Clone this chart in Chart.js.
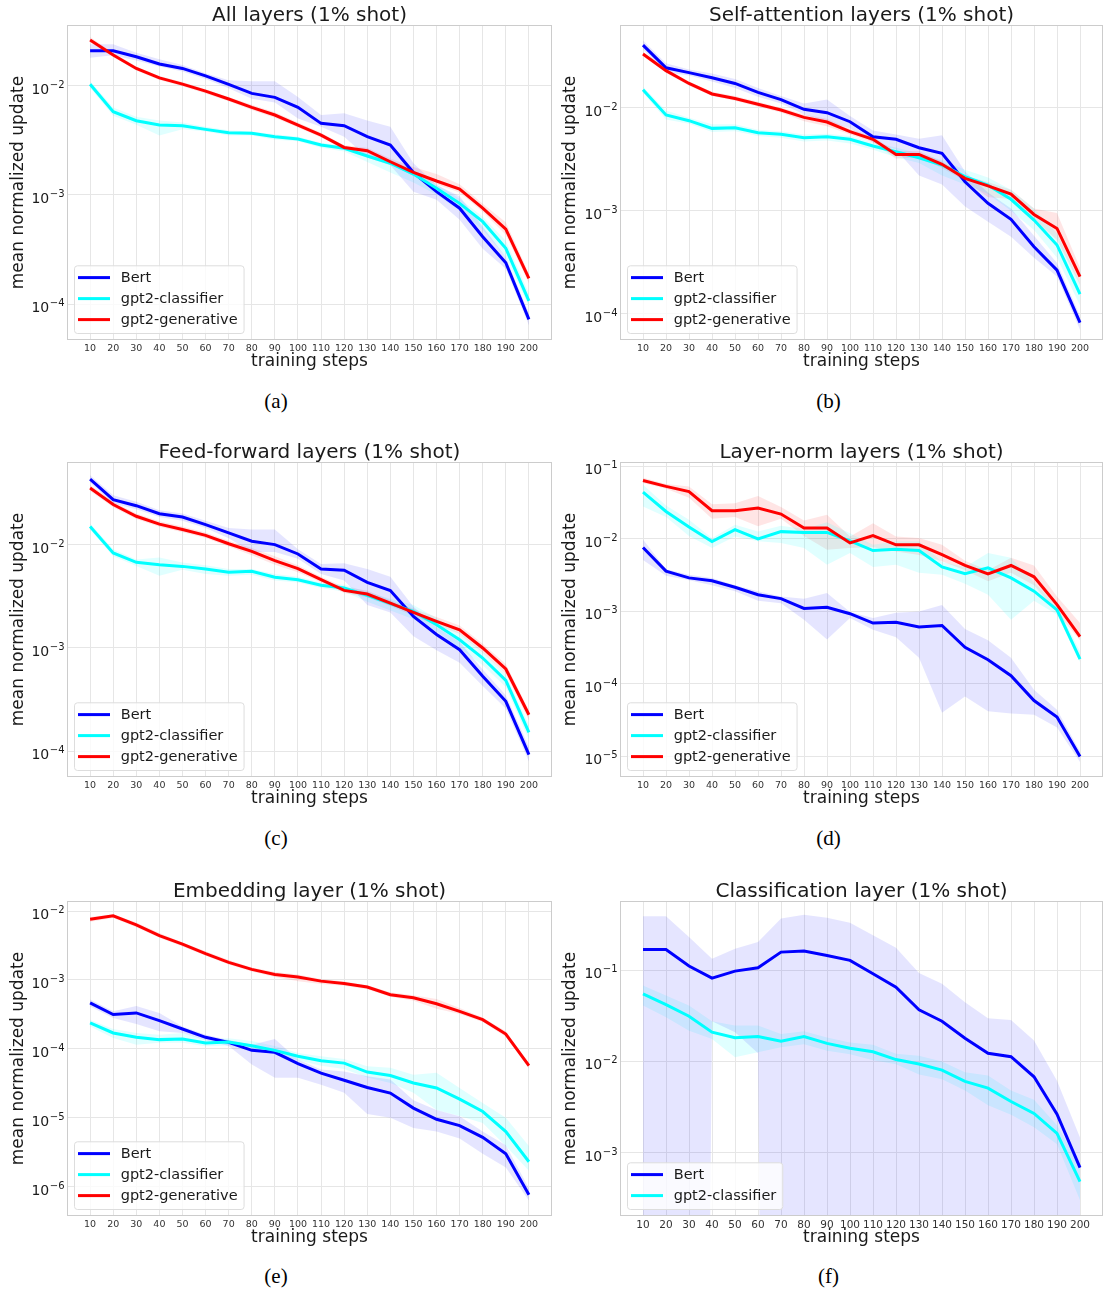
<!DOCTYPE html>
<html>
<head>
<meta charset="utf-8">
<script src="https://cdn.jsdelivr.net/npm/chart.js@4.4.0/dist/chart.umd.min.js"></script>
<style>
  html, body { margin: 0; padding: 0; background: #fff; }
  #fig { position: relative; width: 1105px; height: 1292px; overflow: hidden; }
  canvas { position: absolute; }
  .cap { position: absolute; text-align: center; font-family: 'Liberation Serif', 'Times New Roman', serif; font-size: 21px; line-height: 21px; color: #000; }
</style>
</head>
<body>
<div id="fig">
  <canvas id="chartA" width="555" height="372" style="left:0;top:0"></canvas>
  <canvas id="chartB" width="550" height="372" style="left:555px;top:0"></canvas>
  <canvas id="chartC" width="555" height="372" style="left:0;top:437px"></canvas>
  <canvas id="chartD" width="550" height="372" style="left:555px;top:437px"></canvas>
  <canvas id="chartE" width="555" height="372" style="left:0;top:876px"></canvas>
  <canvas id="chartF" width="550" height="372" style="left:555px;top:876px"></canvas>
  <div class="cap" style="left:0;width:552px;top:391px">(a)</div>
  <div class="cap" style="left:552px;width:553px;top:391px">(b)</div>
  <div class="cap" style="left:0;width:552px;top:828px">(c)</div>
  <div class="cap" style="left:552px;width:553px;top:828px">(d)</div>
  <div class="cap" style="left:0;width:552px;top:1266px">(e)</div>
  <div class="cap" style="left:552px;width:553px;top:1266px">(f)</div>
</div>
<script>
const steps = [10, 20, 30, 40, 50, 60, 70, 80, 90, 100, 110, 120, 130, 140, 150, 160, 170, 180, 190, 200];

// (a) all layers
const bertAll   = [2.09e-2, 2.09e-2, 1.84e-2, 1.58e-2, 1.44e-2, 1.23e-2, 1.03e-2, 8.5e-3, 7.82e-3, 6.34e-3, 4.52e-3, 4.30e-3, 3.41e-3, 2.86e-3, 1.60e-3, 1.07e-3, 7.55e-4, 4.14e-4, 2.39e-4, 7.24e-5];
const bertAllHi = [2.4e-2, 2.4e-2, 2.0e-2, 1.75e-2, 1.55e-2, 1.3e-2, 1.12e-2, 1.1e-2, 1.1e-2, 7.9e-3, 5.4e-3, 5.6e-3, 4.8e-3, 4.2e-3, 1.95e-3, 1.23e-3, 9.7e-4, 5.1e-4, 2.7e-4, 8.2e-5];
const bertAllLo = [1.8e-2, 1.9e-2, 1.7e-2, 1.5e-2, 1.35e-2, 1.15e-2, 9.5e-3, 7.6e-3, 7.0e-3, 5.0e-3, 4.2e-3, 3.4e-3, 2.2e-3, 1.87e-3, 1.07e-3, 9.0e-4, 5.9e-4, 3.2e-4, 2.1e-4, 6.4e-5];
const clsAll    = [1.03e-2, 5.78e-3, 4.78e-3, 4.36e-3, 4.30e-3, 3.98e-3, 3.71e-3, 3.66e-3, 3.41e-3, 3.25e-3, 2.86e-3, 2.67e-3, 2.27e-3, 1.95e-3, 1.55e-3, 1.15e-3, 8.36e-4, 5.68e-4, 3.24e-4, 1.07e-4];
const clsAllHi  = [1.1e-2, 6.3e-3, 5.2e-3, 4.8e-3, 4.6e-3, 4.2e-3, 3.9e-3, 3.8e-3, 3.6e-3, 3.4e-3, 3.0e-3, 2.8e-3, 2.4e-3, 2.1e-3, 1.7e-3, 1.25e-3, 9.2e-4, 6.3e-4, 3.8e-4, 1.25e-4];
const clsAllLo  = [9.6e-3, 5.3e-3, 4.4e-3, 3.5e-3, 4.0e-3, 3.8e-3, 3.5e-3, 3.5e-3, 3.2e-3, 3.1e-3, 2.7e-3, 2.5e-3, 2.0e-3, 1.6e-3, 1.3e-3, 1.0e-3, 7.2e-4, 4.8e-4, 2.7e-4, 9.5e-5];
const genAll    = [2.62e-2, 1.91e-2, 1.44e-2, 1.18e-2, 1.035e-2, 8.93e-3, 7.55e-3, 6.34e-3, 5.39e-3, 4.36e-3, 3.53e-3, 2.72e-3, 2.54e-3, 2.01e-3, 1.61e-3, 1.34e-3, 1.13e-3, 7.55e-4, 4.86e-4, 1.72e-4];
const genAllHi  = [2.8e-2, 2.0e-2, 1.5e-2, 1.23e-2, 1.08e-2, 9.3e-3, 7.9e-3, 6.7e-3, 5.7e-3, 4.6e-3, 3.7e-3, 2.85e-3, 2.7e-3, 2.15e-3, 1.8e-3, 1.55e-3, 1.25e-3, 8.3e-4, 5.6e-4, 1.9e-4];
const genAllLo  = [2.5e-2, 1.83e-2, 1.38e-2, 1.13e-2, 9.9e-3, 8.5e-3, 7.2e-3, 6.0e-3, 5.1e-3, 4.15e-3, 3.35e-3, 2.6e-3, 2.4e-3, 1.9e-3, 1.5e-3, 1.25e-3, 1.05e-3, 7.0e-4, 4.3e-4, 1.55e-4];

// (b) self-attention layers
const bertAttn   = [4.05e-2, 2.44e-2, 2.19e-2, 1.95e-2, 1.72e-2, 1.41e-2, 1.20e-2, 9.64e-3, 8.94e-3, 7.31e-3, 5.23e-3, 4.93e-3, 4.09e-3, 3.60e-3, 1.91e-3, 1.18e-3, 8.24e-4, 4.47e-4, 2.65e-4, 8.18e-5];
const bertAttnHi = [4.5e-2, 2.7e-2, 2.35e-2, 2.15e-2, 1.9e-2, 1.55e-2, 1.3e-2, 1.1e-2, 1.2e-2, 8.3e-3, 6.0e-3, 5.5e-3, 5.0e-3, 5.4e-3, 2.4e-3, 1.5e-3, 1.05e-3, 5.7e-4, 3.1e-4, 9.5e-5];
const bertAttnLo = [3.7e-2, 2.2e-2, 2.05e-2, 1.8e-2, 1.55e-2, 1.28e-2, 1.1e-2, 8.6e-3, 7.3e-3, 6.3e-3, 4.6e-3, 3.9e-3, 2.2e-3, 1.8e-3, 1.1e-3, 7.8e-4, 5.6e-4, 3.5e-4, 2.3e-4, 7.0e-5];
const clsAttn    = [1.49e-2, 8.49e-3, 7.48e-3, 6.30e-3, 6.40e-3, 5.72e-3, 5.51e-3, 5.11e-3, 5.23e-3, 4.93e-3, 4.25e-3, 3.74e-3, 3.27e-3, 2.78e-3, 2.14e-3, 1.77e-3, 1.29e-3, 8.11e-4, 4.65e-4, 1.55e-4];
const clsAttnHi  = [1.6e-2, 9.4e-3, 8.0e-3, 6.9e-3, 6.9e-3, 6.1e-3, 5.9e-3, 5.5e-3, 5.6e-3, 5.3e-3, 4.6e-3, 4.1e-3, 3.6e-3, 3.1e-3, 2.5e-3, 2.1e-3, 1.6e-3, 1.05e-3, 6.0e-4, 2.0e-4];
const clsAttnLo  = [1.4e-2, 7.7e-3, 7.0e-3, 5.8e-3, 5.9e-3, 5.3e-3, 5.1e-3, 4.7e-3, 4.8e-3, 4.5e-3, 3.9e-3, 3.3e-3, 2.9e-3, 2.2e-3, 1.8e-3, 1.45e-3, 1.0e-3, 6.5e-4, 3.5e-4, 1.2e-4];
const genAttn    = [3.32e-2, 2.29e-2, 1.72e-2, 1.36e-2, 1.23e-2, 1.08e-2, 9.49e-3, 8.06e-3, 7.26e-3, 5.85e-3, 4.93e-3, 3.52e-3, 3.52e-3, 2.82e-3, 2.06e-3, 1.74e-3, 1.45e-3, 9.2e-4, 6.73e-4, 2.29e-4];
const genAttnHi  = [3.5e-2, 2.4e-2, 1.8e-2, 1.43e-2, 1.3e-2, 1.14e-2, 1.0e-2, 8.6e-3, 7.8e-3, 6.2e-3, 5.2e-3, 3.8e-3, 3.8e-3, 3.0e-3, 2.2e-3, 1.9e-3, 1.6e-3, 1.05e-3, 9.5e-4, 2.8e-4];
const genAttnLo  = [3.15e-2, 2.18e-2, 1.63e-2, 1.3e-2, 1.17e-2, 1.02e-2, 9.0e-3, 7.4e-3, 6.6e-3, 5.5e-3, 4.6e-3, 3.2e-3, 3.3e-3, 2.6e-3, 1.95e-3, 1.35e-3, 1.3e-3, 8.2e-4, 5.2e-4, 1.9e-4];

// (c) feed-forward layers
const bertFfn   = [4.31e-2, 2.72e-2, 2.38e-2, 1.99e-2, 1.85e-2, 1.56e-2, 1.30e-2, 1.08e-2, 1.00e-2, 8.12e-3, 5.82e-3, 5.65e-3, 4.32e-3, 3.59e-3, 2.02e-3, 1.35e-3, 9.64e-4, 5.32e-4, 3.05e-4, 9.29e-5];
const bertFfnHi = [4.7e-2, 3.0e-2, 2.6e-2, 2.15e-2, 2.0e-2, 1.7e-2, 1.45e-2, 1.4e-2, 1.4e-2, 9.0e-3, 6.5e-3, 6.6e-3, 5.8e-3, 4.9e-3, 2.5e-3, 1.6e-3, 1.15e-3, 6.2e-4, 3.5e-4, 1.1e-4];
const bertFfnLo = [4.0e-2, 2.5e-2, 2.2e-2, 1.85e-2, 1.7e-2, 1.45e-2, 1.15e-2, 8.5e-3, 8.5e-3, 7.3e-3, 5.2e-3, 4.5e-3, 2.6e-3, 2.2e-3, 1.3e-3, 9.5e-4, 7.2e-4, 4.3e-4, 2.6e-4, 8.0e-5];
const clsFfn    = [1.50e-2, 8.30e-3, 6.75e-3, 6.40e-3, 6.16e-3, 5.82e-3, 5.40e-3, 5.52e-3, 4.83e-3, 4.58e-3, 4.04e-3, 3.81e-3, 3.23e-3, 2.69e-3, 2.26e-3, 1.68e-3, 1.20e-3, 8.00e-4, 4.87e-4, 1.53e-4];
const clsFfnHi  = [1.6e-2, 9.0e-3, 7.2e-3, 7.5e-3, 6.7e-3, 6.3e-3, 5.8e-3, 5.8e-3, 5.2e-3, 4.9e-3, 4.3e-3, 4.1e-3, 3.5e-3, 3.0e-3, 2.6e-3, 1.95e-3, 1.4e-3, 9.2e-4, 5.5e-4, 1.8e-4];
const clsFfnLo  = [1.4e-2, 7.7e-3, 6.2e-3, 5.0e-3, 5.7e-3, 5.2e-3, 5.0e-3, 5.1e-3, 4.5e-3, 4.3e-3, 3.8e-3, 3.5e-3, 2.8e-3, 2.3e-3, 1.9e-3, 1.45e-3, 1.0e-3, 6.8e-4, 4.2e-4, 1.3e-4];
const genFfn    = [3.53e-2, 2.44e-2, 1.88e-2, 1.58e-2, 1.40e-2, 1.23e-2, 1.02e-2, 8.61e-3, 6.99e-3, 5.86e-3, 4.58e-3, 3.61e-3, 3.33e-3, 2.72e-3, 2.21e-3, 1.81e-3, 1.50e-3, 1.00e-3, 6.27e-4, 2.26e-4];
const genFfnHi  = [3.8e-2, 2.6e-2, 2.0e-2, 1.68e-2, 1.5e-2, 1.31e-2, 1.09e-2, 9.3e-3, 7.7e-3, 6.3e-3, 4.9e-3, 3.9e-3, 3.6e-3, 2.9e-3, 2.4e-3, 2.0e-3, 1.65e-3, 1.1e-3, 7.0e-4, 2.5e-4];
const genFfnLo  = [3.3e-2, 2.3e-2, 1.77e-2, 1.49e-2, 1.32e-2, 1.16e-2, 9.6e-3, 7.9e-3, 6.4e-3, 5.4e-3, 4.3e-3, 3.4e-3, 3.1e-3, 2.55e-3, 2.05e-3, 1.65e-3, 1.37e-3, 9.0e-4, 5.6e-4, 2.0e-4];

// (d) layer-norm layers
const bertNorm   = [7.6e-3, 3.6e-3, 2.9e-3, 2.65e-3, 2.15e-3, 1.7e-3, 1.5e-3, 1.1e-3, 1.14e-3, 9.3e-4, 6.9e-4, 7.1e-4, 6.1e-4, 6.4e-4, 3.2e-4, 2.15e-4, 1.3e-4, 5.9e-5, 3.5e-5, 1.0e-5];
const bertNormHi = [9.8e-3, 3.8e-3, 3.2e-3, 2.9e-3, 2.3e-3, 1.9e-3, 1.6e-3, 1.5e-3, 1.8e-3, 9.8e-4, 8.1e-4, 9.6e-4, 1.0e-3, 1.23e-3, 5.7e-4, 4.0e-4, 2.3e-4, 8.3e-5, 4.4e-5, 1.17e-5];
const bertNormLo = [5.1e-3, 3.1e-3, 2.7e-3, 2.3e-3, 1.9e-3, 1.4e-3, 1.3e-3, 7.7e-4, 4.1e-4, 8.1e-4, 5.6e-4, 4.4e-4, 2.3e-4, 4.0e-5, 6.7e-5, 4.2e-5, 3.9e-5, 3.75e-5, 2.5e-5, 8.4e-6];
const clsNorm    = [4.43e-2, 2.39e-2, 1.46e-2, 9.2e-3, 1.34e-2, 1.0e-2, 1.26e-2, 1.23e-2, 1.23e-2, 9.4e-3, 6.9e-3, 7.2e-3, 6.9e-3, 4.1e-3, 3.3e-3, 4.0e-3, 2.9e-3, 1.9e-3, 1.05e-3, 2.2e-4];
const clsNormHi  = [5.6e-2, 2.9e-2, 1.84e-2, 1.03e-2, 1.57e-2, 1.27e-2, 1.52e-2, 1.37e-2, 1.7e-2, 1.2e-2, 8.3e-3, 9.3e-3, 9.3e-3, 4.8e-3, 4.1e-3, 6.4e-3, 5.5e-3, 2.5e-3, 1.2e-3, 2.8e-4];
const clsNormLo  = [2.8e-2, 2.0e-2, 1.1e-2, 7.5e-3, 1.08e-2, 9.3e-3, 8.8e-3, 7.5e-3, 4.4e-3, 6.4e-3, 4.1e-3, 4.4e-3, 3.4e-3, 3.2e-3, 2.4e-3, 1.7e-3, 7.7e-4, 1.4e-3, 9.0e-4, 2.0e-4];
const genNorm    = [6.4e-2, 5.3e-2, 4.5e-2, 2.45e-2, 2.45e-2, 2.66e-2, 2.2e-2, 1.41e-2, 1.41e-2, 8.8e-3, 1.11e-2, 8.3e-3, 8.3e-3, 6.05e-3, 4.3e-3, 3.3e-3, 4.3e-3, 3.0e-3, 1.24e-3, 4.5e-4];
const genNormHi  = [7.0e-2, 5.7e-2, 5.3e-2, 3.0e-2, 3.1e-2, 3.9e-2, 2.75e-2, 1.8e-2, 2.16e-2, 1.08e-2, 1.65e-2, 1.08e-2, 1.03e-2, 8.3e-3, 5.0e-3, 3.7e-3, 5.5e-3, 4.3e-3, 1.6e-3, 6.9e-4];
const genNormLo  = [5.9e-2, 4.9e-2, 3.7e-2, 1.9e-2, 2.0e-2, 1.5e-2, 1.9e-2, 1.1e-2, 7.1e-3, 7.5e-3, 7.7e-3, 6.7e-3, 6.0e-3, 4.9e-3, 3.7e-3, 2.6e-3, 3.4e-3, 2.3e-3, 9.5e-4, 4.0e-4];

// (e) embedding layer
const bertEmb   = [4.65e-4, 3.14e-4, 3.32e-4, 2.57e-4, 1.94e-4, 1.47e-4, 1.24e-4, 9.5e-5, 8.9e-5, 6.1e-5, 4.45e-5, 3.5e-5, 2.75e-5, 2.28e-5, 1.38e-5, 9.5e-6, 7.7e-6, 5.2e-6, 3.0e-6, 7.6e-7];
const bertEmbHi = [5.2e-4, 3.5e-4, 4.2e-4, 3.3e-4, 2.1e-4, 1.6e-4, 1.34e-4, 1.15e-4, 1.39e-4, 7.0e-5, 5.0e-5, 4.7e-5, 4.0e-5, 3.6e-5, 1.8e-5, 1.3e-5, 1.05e-5, 6.3e-6, 4.0e-6, 9.5e-7];
const bertEmbLo = [4.1e-4, 2.8e-4, 2.3e-4, 1.8e-4, 1.7e-4, 1.33e-4, 1.1e-4, 5.9e-5, 3.8e-5, 3.8e-5, 3.0e-5, 2.3e-5, 1.13e-5, 1.0e-5, 7.1e-6, 6.3e-6, 5.0e-6, 3.0e-6, 1.9e-6, 6.3e-7];
const clsEmb    = [2.38e-4, 1.7e-4, 1.47e-4, 1.36e-4, 1.39e-4, 1.22e-4, 1.26e-4, 1.11e-4, 9.5e-5, 7.8e-5, 6.7e-5, 6.2e-5, 4.6e-5, 4.1e-5, 3.2e-5, 2.7e-5, 1.86e-5, 1.23e-5, 6.3e-6, 2.3e-6];
const clsEmbHi  = [2.64e-4, 1.94e-4, 1.7e-4, 1.6e-4, 1.7e-4, 1.37e-4, 1.42e-4, 1.3e-4, 1.1e-4, 8.7e-5, 7.8e-5, 7.1e-5, 5.6e-5, 5.3e-5, 4.2e-5, 4.5e-5, 2.7e-5, 1.63e-5, 1.0e-5, 3.9e-6];
const clsEmbLo  = [2.1e-4, 1.44e-4, 1.15e-4, 1.22e-4, 1.22e-4, 1.09e-4, 1.12e-4, 9.8e-5, 8.3e-5, 6.8e-5, 5.7e-5, 5.1e-5, 3.85e-5, 3.2e-5, 2.3e-5, 1.3e-5, 1.06e-5, 8.4e-6, 3.9e-6, 1.7e-6];
const genEmb    = [7.6e-3, 8.5e-3, 6.3e-3, 4.4e-3, 3.3e-3, 2.4e-3, 1.8e-3, 1.42e-3, 1.2e-3, 1.1e-3, 9.6e-4, 8.9e-4, 7.9e-4, 6.1e-4, 5.5e-4, 4.5e-4, 3.5e-4, 2.65e-4, 1.64e-4, 5.7e-5];
const genEmbHi  = [8.2e-3, 9.0e-3, 6.8e-3, 4.8e-3, 3.5e-3, 2.6e-3, 1.95e-3, 1.52e-3, 1.3e-3, 1.2e-3, 1.03e-3, 9.5e-4, 8.4e-4, 6.6e-4, 6.0e-4, 5.3e-4, 3.9e-4, 2.85e-4, 1.8e-4, 6.2e-5];
const genEmbLo  = [7.0e-3, 7.9e-3, 5.8e-3, 4.1e-3, 3.05e-3, 2.25e-3, 1.68e-3, 1.32e-3, 1.1e-3, 9.6e-4, 8.7e-4, 8.2e-4, 7.3e-4, 5.7e-4, 5.0e-4, 3.8e-4, 3.2e-4, 2.45e-4, 1.5e-4, 5.2e-5];

// (f) classification layer; 1e-30 = lower bound below zero (far off the axis)
const bertCls   = [0.170, 0.170, 0.112, 0.0824, 0.0983, 0.107, 0.159, 0.163, 0.146, 0.129, 0.0919, 0.0656, 0.0369, 0.0277, 0.018, 0.0123, 0.0113, 0.0068, 0.00264, 0.000684];
const bertClsHi = [0.393, 0.393, 0.233, 0.134, 0.173, 0.205, 0.371, 0.41, 0.38, 0.335, 0.243, 0.178, 0.0935, 0.0713, 0.0448, 0.0298, 0.0286, 0.017, 0.00615, 0.00146];
const bertClsLo = [1e-30, 1e-30, 1e-30, 0.0277, 0.0209, 0.0123, 1e-30, 1e-30, 1e-30, 1e-30, 1e-30, 1e-30, 1e-30, 1e-30, 1e-30, 1e-30, 1e-30, 1e-30, 1e-30, 1e-30];
const clsCls    = [0.0553, 0.0422, 0.0314, 0.021, 0.0182, 0.0188, 0.0167, 0.0188, 0.0158, 0.014, 0.0128, 0.0105, 0.00938, 0.00805, 0.00605, 0.0051, 0.00364, 0.00269, 0.00162, 0.00048];
const clsClsHi  = [0.0683, 0.053, 0.0412, 0.0277, 0.0248, 0.0248, 0.0201, 0.0215, 0.0184, 0.0162, 0.0153, 0.0122, 0.0116, 0.010, 0.0076, 0.007, 0.0048, 0.0038, 0.002, 0.00074];
const clsClsLo  = [0.0412, 0.0306, 0.0218, 0.0177, 0.0111, 0.0126, 0.0143, 0.0155, 0.0131, 0.012, 0.0103, 0.0093, 0.0072, 0.0064, 0.0048, 0.0033, 0.0026, 0.0019, 0.00123, 0.0003];

// y tick labels (powers of ten) per panel
const ticksAll  = [1e-4, 1e-3, 1e-2];
const ticksAttn = [1e-4, 1e-3, 1e-2];
const ticksFfn  = [1e-4, 1e-3, 1e-2];
const ticksNorm = [1e-5, 1e-4, 1e-3, 1e-2, 1e-1];
const ticksEmb  = [1e-6, 1e-5, 1e-4, 1e-3, 1e-2];
const ticksCls  = [1e-3, 1e-2, 1e-1];

Chart.defaults.font.family = '"DejaVu Sans", sans-serif';
Chart.defaults.color = '#262626';

function expText(v) {
    return String(Math.round(Math.log10(v))).replace('-', '\u2212');
}

// frame, title over the plot area, 10^n tick labels, legend in the lower-left corner
const panelDecor = {
    id: 'panelDecor',
    afterDraw(chart, args, opts) {
        const ctx = chart.ctx;
        const a = chart.chartArea;
        const yScale = chart.scales.y;
        ctx.save();
        ctx.strokeStyle = '#cccccc';
        ctx.lineWidth = 1;
        ctx.strokeRect(a.left + 0.5, a.top + 0.5, a.width - 1, a.height - 1);

        ctx.fillStyle = '#1a1a1a';
        ctx.font = '20px "DejaVu Sans"';
        ctx.textAlign = 'center';
        ctx.textBaseline = 'alphabetic';
        ctx.fillText(opts.title, (a.left + a.right) / 2, a.top - 4);

        // y tick labels as 10 with a raised exponent
        yScale.ticks.forEach(t => {
            const y = yScale.getPixelForValue(t.value);
            const e = expText(t.value);
            ctx.textAlign = 'left';
            ctx.font = '10px "DejaVu Sans"';
            const ew = ctx.measureText(e).width;
            ctx.font = '14px "DejaVu Sans"';
            const bw = ctx.measureText('10').width;
            const x0 = a.left - 3 - ew - bw;
            ctx.fillText('10', x0, y + 8);
            ctx.font = '10px "DejaVu Sans"';
            ctx.fillText(e, x0 + bw + 0.5, y + 2);
        });

        const items = chart.data.datasets.filter(d => d.main);
        ctx.font = '14.5px "DejaVu Sans"';
        let tw = 0;
        items.forEach(d => { tw = Math.max(tw, ctx.measureText(d.label).width); });
        const bx = a.left + 7;
        const bh = 21 * items.length + 4.7;
        const by = a.bottom - 7 - bh;
        const bw = 46.7 + tw + 6;
        ctx.beginPath();
        ctx.roundRect(bx + 0.5, by + 0.5, bw, bh, 3);
        ctx.fillStyle = 'rgba(255,255,255,0.8)';
        ctx.fill();
        ctx.strokeStyle = '#dddddd';
        ctx.stroke();
        ctx.textAlign = 'left';
        ctx.textBaseline = 'middle';
        items.forEach((d, i) => {
            const y = by + 12.3 + 21 * i;
            ctx.beginPath();
            ctx.moveTo(bx + 4, y);
            ctx.lineTo(bx + 36, y);
            ctx.strokeStyle = d.borderColor;
            ctx.lineWidth = 3;
            ctx.stroke();
            ctx.fillStyle = '#1a1a1a';
            ctx.fillText(d.label, bx + 46.7, y + 1);
        });
        ctx.restore();
    }
};

function drawPanel(id, title, yMin, yMax, yTicks, series, right, xFont) {
    const datasets = [];
    series.forEach(s => {
        datasets.push({ data: s.hi, fill: '+1', backgroundColor: s.band, borderColor: 'rgba(0,0,0,0)', borderWidth: 0, pointRadius: 0, order: 10 });
        datasets.push({ data: s.lo, fill: false, borderColor: 'rgba(0,0,0,0)', borderWidth: 0, pointRadius: 0, order: 10 });
    });
    series.forEach((s, i) => {
        datasets.push({ label: s.name, data: s.mean, borderColor: s.color, borderWidth: 3, pointRadius: 0, fill: false, order: 5 - i, main: true });
    });

    new Chart(document.getElementById(id), {
        type: 'line',
        data: { labels: steps, datasets: datasets },
        plugins: [panelDecor],
        options: {
            responsive: false,
            animation: false,
            events: [],
            layout: { padding: { top: 25, right: right ? 2 : 3, bottom: 0, left: 0 } },
            plugins: {
                legend: { display: false },
                tooltip: { enabled: false },
                panelDecor: { title: title }
            },
            scales: {
                x: {
                    type: 'linear',
                    min: 0,
                    max: 210,
                    afterBuildTicks: scale => { scale.ticks = steps.map(v => ({ value: v })); },
                    afterFit: scale => { scale.height = 32; },
                    grid: { color: '#e6e6e6', drawTicks: false },
                    border: { display: false },
                    ticks: { autoSkip: false, maxRotation: 0, padding: 3, color: '#333333', font: { size: xFont } },
                    title: { display: true, text: 'training steps', color: '#1a1a1a', font: { size: 17 }, padding: 0 }
                },
                y: {
                    type: 'logarithmic',
                    min: yMin,
                    max: yMax,
                    afterBuildTicks: scale => { scale.ticks = yTicks.map(v => ({ value: v })); },
                    afterFit: scale => { scale.width = right ? 65 : 67; },
                    grid: { color: '#e6e6e6', drawTicks: false },
                    border: { display: false },
                    ticks: { display: false },
                    title: { display: true, text: 'mean normalized update', color: '#1a1a1a', font: { size: 17 }, padding: { top: right ? 5 : 8, bottom: 0 } }
                }
            }
        }
    });
}

const blue = '#0000ff', cyan = '#00ffff', red = '#ff0000';
const blueBand = 'rgba(0,0,255,0.1)', cyanBand = 'rgba(0,255,255,0.12)', redBand = 'rgba(255,0,0,0.1)';

drawPanel('chartA', 'All layers (1% shot)', 4.68e-5, 0.036, ticksAll, [
    { name: 'Bert', mean: bertAll, hi: bertAllHi, lo: bertAllLo, color: blue, band: blueBand },
    { name: 'gpt2-classifier', mean: clsAll, hi: clsAllHi, lo: clsAllLo, color: cyan, band: cyanBand },
    { name: 'gpt2-generative', mean: genAll, hi: genAllHi, lo: genAllLo, color: red, band: redBand }
], false, 9.5);

drawPanel('chartB', 'Self-attention layers (1% shot)', 5.56e-5, 0.0635, ticksAttn, [
    { name: 'Bert', mean: bertAttn, hi: bertAttnHi, lo: bertAttnLo, color: blue, band: blueBand },
    { name: 'gpt2-classifier', mean: clsAttn, hi: clsAttnHi, lo: clsAttnLo, color: cyan, band: cyanBand },
    { name: 'gpt2-generative', mean: genAttn, hi: genAttnHi, lo: genAttnLo, color: red, band: redBand }
], true, 9.5);

drawPanel('chartC', 'Feed-forward layers (1% shot)', 5.65e-5, 0.063, ticksFfn, [
    { name: 'Bert', mean: bertFfn, hi: bertFfnHi, lo: bertFfnLo, color: blue, band: blueBand },
    { name: 'gpt2-classifier', mean: clsFfn, hi: clsFfnHi, lo: clsFfnLo, color: cyan, band: cyanBand },
    { name: 'gpt2-generative', mean: genFfn, hi: genFfnHi, lo: genFfnLo, color: red, band: redBand }
], false, 9.5);

drawPanel('chartD', 'Layer-norm layers (1% shot)', 5.2e-6, 0.115, ticksNorm, [
    { name: 'Bert', mean: bertNorm, hi: bertNormHi, lo: bertNormLo, color: blue, band: blueBand },
    { name: 'gpt2-classifier', mean: clsNorm, hi: clsNormHi, lo: clsNormLo, color: cyan, band: cyanBand },
    { name: 'gpt2-generative', mean: genNorm, hi: genNormHi, lo: genNormLo, color: red, band: redBand }
], true, 9.5);

drawPanel('chartE', 'Embedding layer (1% shot)', 3.75e-7, 0.01397, ticksEmb, [
    { name: 'Bert', mean: bertEmb, hi: bertEmbHi, lo: bertEmbLo, color: blue, band: blueBand },
    { name: 'gpt2-classifier', mean: clsEmb, hi: clsEmbHi, lo: clsEmbLo, color: cyan, band: cyanBand },
    { name: 'gpt2-generative', mean: genEmb, hi: genEmbHi, lo: genEmbLo, color: red, band: redBand }
], false, 9.5);

drawPanel('chartF', 'Classification layer (1% shot)', 2.01e-4, 0.579, ticksCls, [
    { name: 'Bert', mean: bertCls, hi: bertClsHi, lo: bertClsLo, color: blue, band: blueBand },
    { name: 'gpt2-classifier', mean: clsCls, hi: clsClsHi, lo: clsClsLo, color: cyan, band: cyanBand }
], true, 10.5);
</script>
</body>
</html>
